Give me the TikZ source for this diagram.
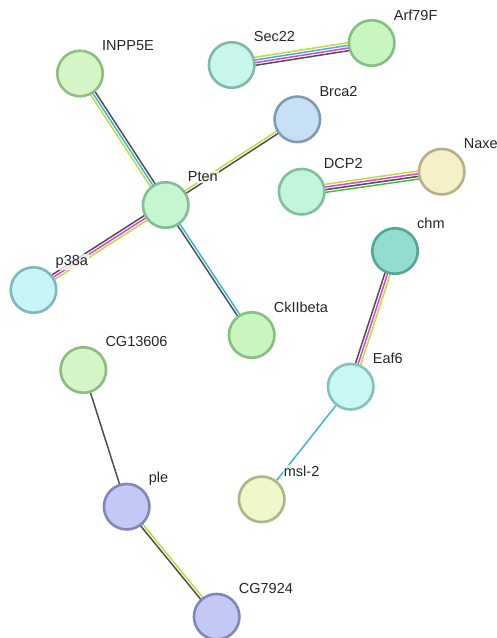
\documentclass[tikz,border=0pt]{standalone}
\usepackage{fontspec}
\setmainfont{Liberation Sans}
\usetikzlibrary{calc,backgrounds}
\definecolor{eY}{HTML}{C4DA3A}
\definecolor{eC}{HTML}{3CB6E0}
\definecolor{eM}{HTML}{E040E0}
\definecolor{eK}{HTML}{505050}
\definecolor{eG}{HTML}{3CC43C}
\tikzset{
  prot/.style={circle, minimum size=45.5pt, inner sep=0pt, line width=2.6pt},
  plabel/.style={anchor=west, font=\fontsize{14.5}{16}\selectfont, text=black!85,
    fill=white, fill opacity=0.75, text opacity=1, inner sep=1pt},
  edge/.style={line width=1.5pt}
}
\newcommand{\ppedge}[4]{\draw[edge,#4] ($(#1)!#3!90:(#2)$) -- ($(#2)!#3!-90:(#1)$);}
\begin{document}
\begin{tikzpicture}[x=1pt,y=-1pt]
\useasboundingbox (0,0) rectangle (497,638);
% nodes
\node[prot, fill={rgb,255:red,214;green,245;blue,198}, draw={rgb,255:red,144;green,190;blue,130}] (INPP5E) at (80,73.5) {};
\node[prot, fill={rgb,255:red,200;green,245;blue,236}, draw={rgb,255:red,128;green,184;blue,170}] (Sec22) at (231.7,65) {};
\node[prot, fill={rgb,255:red,200;green,245;blue,192}, draw={rgb,255:red,132;green,192;blue,132}] (Arf79F) at (371.7,43) {};
\node[prot, fill={rgb,255:red,200;green,224;blue,245}, draw={rgb,255:red,126;green,156;blue,178}] (Brca2) at (297.3,119.3) {};
\node[prot, fill={rgb,255:red,198;green,245;blue,210}, draw={rgb,255:red,132;green,188;blue,148}] (Pten) at (165.7,205) {};
\node[prot, fill={rgb,255:red,194;green,245;blue,218}, draw={rgb,255:red,128;green,192;blue,160}] (DCP2) at (301.7,191.7) {};
\node[prot, fill={rgb,255:red,245;green,240;blue,200}, draw={rgb,255:red,184;green,176;blue,136}] (Naxe) at (441.7,171.7) {};
\node[prot, fill={rgb,255:red,146;green,220;blue,208}, draw={rgb,255:red,84;green,166;blue,152}] (chm) at (395,251) {};
\node[prot, fill={rgb,255:red,200;green,245;blue,248}, draw={rgb,255:red,128;green,184;blue,190}] (p38a) at (33.5,290) {};
\node[prot, fill={rgb,255:red,200;green,245;blue,192}, draw={rgb,255:red,134;green,192;blue,128}] (CkIIbeta) at (251.7,335) {};
\node[prot, fill={rgb,255:red,212;green,245;blue,200}, draw={rgb,255:red,140;green,188;blue,128}] (CG13606) at (83.3,370) {};
\node[prot, fill={rgb,255:red,200;green,248;blue,245}, draw={rgb,255:red,132;green,192;blue,188}] (Eaf6) at (350.7,386.7) {};
\node[prot, fill={rgb,255:red,238;green,248;blue,200}, draw={rgb,255:red,170;green,184;blue,136}] (msl2) at (261.7,499.3) {};
\node[prot, fill={rgb,255:red,196;green,200;blue,245}, draw={rgb,255:red,128;green,136;blue,184}] (ple) at (126.7,506.7) {};
\node[prot, fill={rgb,255:red,196;green,200;blue,245}, draw={rgb,255:red,128;green,136;blue,184}] (CG7924) at (216.7,616.7) {};
% edges
\begin{scope}[on background layer]
\fill[white] (0,0) rectangle (497,638);
\ppedge{Sec22}{Arf79F}{4pt}{eY}
\ppedge{Sec22}{Arf79F}{1.33pt}{eC}
\ppedge{Sec22}{Arf79F}{-1.33pt}{eM}
\ppedge{Sec22}{Arf79F}{-4pt}{eK}
\ppedge{INPP5E}{Pten}{-2.7pt}{eY}
\ppedge{INPP5E}{Pten}{0pt}{eC}
\ppedge{INPP5E}{Pten}{2.7pt}{eK}
\ppedge{p38a}{Pten}{2.7pt}{eK}
\ppedge{p38a}{Pten}{0pt}{eM}
\ppedge{p38a}{Pten}{-2.7pt}{eY}
\ppedge{Pten}{Brca2}{1.35pt}{eY}
\ppedge{Pten}{Brca2}{-1.35pt}{eK}
\ppedge{DCP2}{Naxe}{4pt}{eY}
\ppedge{DCP2}{Naxe}{1.33pt}{eM}
\ppedge{DCP2}{Naxe}{-1.33pt}{eK}
\ppedge{DCP2}{Naxe}{-4pt}{eG}
\ppedge{chm}{Eaf6}{2.7pt}{eY}
\ppedge{chm}{Eaf6}{0pt}{eM}
\ppedge{chm}{Eaf6}{-2.7pt}{eK}
\ppedge{Pten}{CkIIbeta}{1.35pt}{eC}
\ppedge{Pten}{CkIIbeta}{-1.35pt}{eK}
\ppedge{ple}{CG7924}{1.35pt}{eY}
\ppedge{ple}{CG7924}{-1.35pt}{eK}
\draw[edge,eK] (CG13606) -- (ple);
\draw[edge,eC] (Eaf6) -- (msl2);
\end{scope}
% labels
\foreach \n/\t in {INPP5E/INPP5E, Sec22/Sec22, Arf79F/Arf79F, Brca2/Brca2, Pten/Pten, DCP2/DCP2, Naxe/Naxe, chm/chm, p38a/p38a, CkIIbeta/CkIIbeta, CG13606/CG13606, Eaf6/Eaf6, msl2/msl-2, ple/ple, CG7924/CG7924}
  \node[plabel] (lab-\n) at ($(\n.center)+(21,-28)$) {\t};
\end{tikzpicture}
\end{document}
